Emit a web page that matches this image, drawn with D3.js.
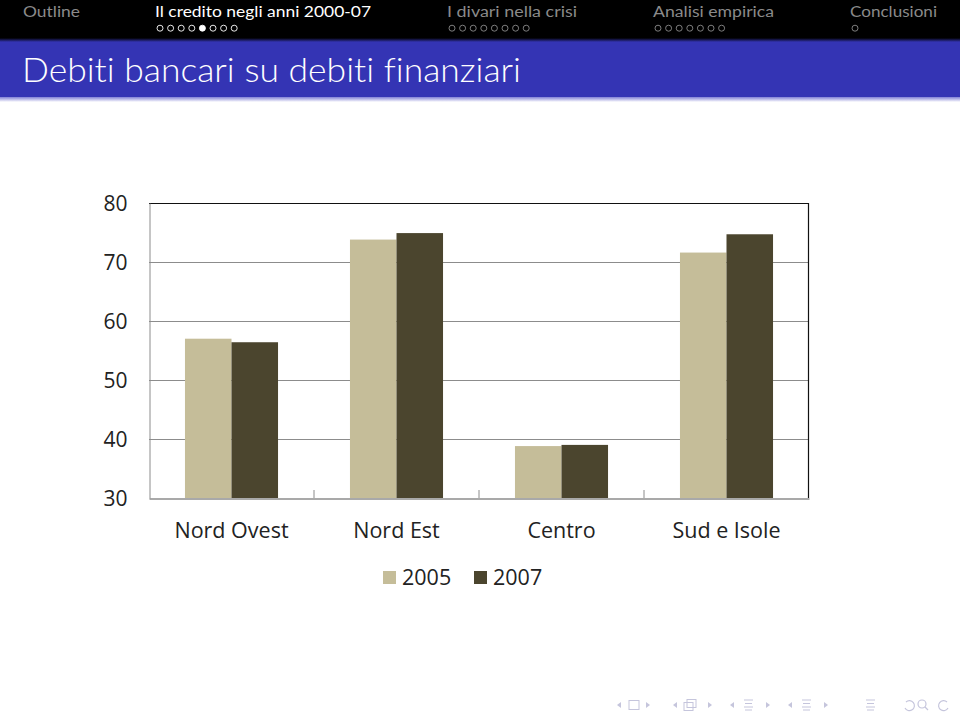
<!DOCTYPE html>
<html><head><meta charset="utf-8">
<script src="https://cdn.jsdelivr.net/npm/d3@7"></script>
<style>html,body{margin:0;padding:0;background:#fff;}svg{display:block;}</style>
</head><body>
<svg id="chart" width="960" height="720"></svg>
<script>
// ---- data ----
const categories = ["Nord Ovest", "Nord Est", "Centro", "Sud e Isole"];
const seriesNames = ["2005", "2007"];
const values2005 = [57.0, 73.8, 38.8, 71.6];
const values2007 = [56.4, 74.9, 39.0, 74.7];
const yTicks = [30, 40, 50, 60, 70, 80];
const navSections = ["Outline", "Il credito negli anni 2000-07", "I divari nella crisi", "Analisi empirica", "Conclusioni"];
const navDots = [0, 8, 8, 7, 1];
const title = "Debiti bancari su debiti finanziari";

const colors = {"2005": "#c5bd99", "2007": "#4b452e"};
const svg = d3.select("#chart");

// ---- beamer header ----
const defs = svg.append("defs");
const g1 = defs.append("linearGradient").attr("id","shade").attr("x1",0).attr("x2",0).attr("y1",0).attr("y2",1);
g1.append("stop").attr("offset","0").attr("stop-color","#8080d6");
g1.append("stop").attr("offset","1").attr("stop-color","#ffffff");
const g2 = defs.append("linearGradient").attr("id","shade2").attr("x1",0).attr("x2",0).attr("y1",0).attr("y2",1);
g2.append("stop").attr("offset","0").attr("stop-color","#000000");
g2.append("stop").attr("offset","1").attr("stop-color","#3434b4");

svg.append("rect").attr("x",0).attr("y",0).attr("width",960).attr("height",40).attr("fill","#000");
svg.append("rect").attr("x",0).attr("y",38).attr("width",960).attr("height",4).attr("fill","url(#shade2)");
svg.append("rect").attr("x",0).attr("y",42).attr("width",960).attr("height",55).attr("fill","#3434b4");
svg.append("rect").attr("x",0).attr("y",97).attr("width",960).attr("height",5).attr("fill","url(#shade)");

const navX = [23, 155, 447, 653, 850];
const navW = [57, 216, 130, 121, 87];
navSections.forEach((s, i) => {
  svg.append("text").attr("x", navX[i]).attr("y", 16.5)
    .attr("font-family", "Lato, 'DejaVu Sans', sans-serif").attr("font-size", 15.5)
    .attr("fill", i === 1 ? "#ffffff" : "#8a8a8a")
    .attr("textLength", navW[i]).attr("lengthAdjust","spacingAndGlyphs")
    .text(s);
  for (let k = 0; k < navDots[i]; k++) {
    const filled = (i === 1 && k === 4);
    svg.append("circle").attr("cx", navX[i] + 5 + k * 10.6).attr("cy", 28.2).attr("r", 3)
      .attr("fill", filled ? "#ffffff" : "none")
      .attr("stroke", i === 1 ? "#ffffff" : "#8a8a8a").attr("stroke-width", 0.9);
  }
});

svg.append("text").attr("x", 22).attr("y", 82)
  .attr("font-family", "Lato, 'DejaVu Sans', sans-serif").attr("font-size", 34).attr("font-weight", 300)
  .attr("fill", "#fff").attr("textLength", 499).attr("lengthAdjust","spacingAndGlyphs")
  .style("font-variant-ligatures", "none")
  .text(title);

// ---- chart ----
const pLeft = 149, pRight = 809, pTop = 203, pBottom = 498;
const y = d3.scaleLinear().domain([30, 80]).range([pBottom, pTop]);
const x0 = d3.scaleBand().domain(categories).range([pLeft, pRight]).paddingInner(0.436).paddingOuter(0.218);
const x1 = d3.scaleBand().domain(seriesNames).range([0, x0.bandwidth()]);

const font = "'Open Sans', 'Noto Sans', sans-serif";

// gridlines
const grid = svg.append("g");
grid.selectAll("line").data(yTicks.filter(t => t > 30 && t < 80)).join("line")
  .attr("x1", pLeft).attr("x2", pRight).attr("y1", d => y(d) + 0.5).attr("y2", d => y(d) + 0.5)
  .attr("stroke", "#8c8c8c").attr("stroke-width", 1);

// bars
const rows = categories.map((c, i) => ({cat: c, vals: [{s: "2005", v: values2005[i]}, {s: "2007", v: values2007[i]}]}));
const grp = svg.append("g").selectAll("g").data(rows).join("g")
  .attr("transform", d => `translate(${x0(d.cat)},0)`);
grp.selectAll("rect").data(d => d.vals).join("rect")
  .attr("x", d => x1(d.s)).attr("width", x1.bandwidth())
  .attr("y", d => y(d.v)).attr("height", d => y(30) - y(d.v))
  .attr("fill", d => colors[d.s]);

// frame
svg.append("line").attr("x1", pLeft).attr("x2", pRight).attr("y1", pTop + 0.5).attr("y2", pTop + 0.5).attr("stroke", "#111").attr("stroke-width", 1.2);
svg.append("line").attr("x1", pRight - 0.5).attr("x2", pRight - 0.5).attr("y1", pTop).attr("y2", pBottom).attr("stroke", "#111").attr("stroke-width", 1.2);

// y axis
const yAxis = svg.append("g").attr("transform", `translate(${pLeft + 0.5},0)`)
  .call(d3.axisLeft(y).tickValues(yTicks).tickSize(0).tickPadding(22));
yAxis.select(".domain").attr("stroke", "#8c8c8c");
yAxis.selectAll("text").attr("font-family", font).attr("font-size", 21).attr("fill", "#222").attr("dy", "0.34em");

// x axis
const xAxis = svg.append("g").attr("transform", `translate(0,${pBottom + 0.5})`)
  .call(d3.axisBottom(x0).tickSize(0).tickPadding(24));
xAxis.select(".domain").attr("stroke", "#8c8c8c").attr("stroke-width", 1.5);
xAxis.selectAll("text").attr("font-family", font).attr("font-size", 21.5).attr("fill", "#222");
// category separator ticks (inside)
const seps = categories.slice(1).map(c => x0(c) - x0.step() * x0.paddingInner() / 2);
svg.append("g").selectAll("line").data(seps).join("line")
  .attr("x1", d => d).attr("x2", d => d).attr("y1", pBottom).attr("y2", pBottom - 8)
  .attr("stroke", "#8c8c8c").attr("stroke-width", 1);

// legend
const legX = [383, 474];
const leg = svg.append("g").selectAll("g").data(seriesNames).join("g")
  .attr("transform", (d, i) => `translate(${legX[i]},571)`);
leg.append("rect").attr("width", 13).attr("height", 13).attr("fill", d => colors[d]);
leg.append("text").attr("x", 19).attr("y", 6.5).attr("dy", "0.36em")
  .attr("font-family", font).attr("font-size", 21.5).attr("fill", "#222").text(d => d);

// beamer navigation symbols
const nav = svg.append("g").attr("fill", "#c5c5dc").attr("stroke", "#c5c5dc");
const triL = x => `M${x},705 l4,-3 v6 z`;
const triR = x => `M${x},705 l-4,-3 v6 z`;
[617, 673, 730, 788].forEach(x => nav.append("path").attr("d", triL(x)).attr("stroke", "none"));
[650, 712, 770, 828].forEach(x => nav.append("path").attr("d", triR(x)).attr("stroke", "none"));
nav.append("rect").attr("x", 629).attr("y", 700.5).attr("width", 10).attr("height", 9).attr("fill", "none").attr("stroke-width", 1);
nav.append("rect").attr("x", 684).attr("y", 702.5).attr("width", 9).attr("height", 8).attr("fill", "none");
nav.append("rect").attr("x", 687).attr("y", 699.5).attr("width", 9).attr("height", 8).attr("fill", "none");
[744, 802, 866].forEach(x => {
  [700, 703.5, 707, 710].forEach((yy, k) => nav.append("line").attr("x1", x + (k % 2 ? 1 : 0)).attr("x2", x + 9 - (k % 2 ? 1 : 0)).attr("y1", yy).attr("y2", yy).attr("stroke-width", 1));
});
nav.append("path").attr("d", "M906,702 a5,5 0 1,1 -1,6").attr("fill", "none").attr("stroke-width", 1.2);
nav.append("circle").attr("cx", 922).attr("cy", 704).attr("r", 4).attr("fill", "none").attr("stroke-width", 1.2);
nav.append("line").attr("x1", 925).attr("y1", 707).attr("x2", 928).attr("y2", 710).attr("stroke-width", 1.2);
nav.append("path").attr("d", "M947,702 a5,5 0 1,0 1,6").attr("fill", "none").attr("stroke-width", 1.2);
</script>
</body></html>
